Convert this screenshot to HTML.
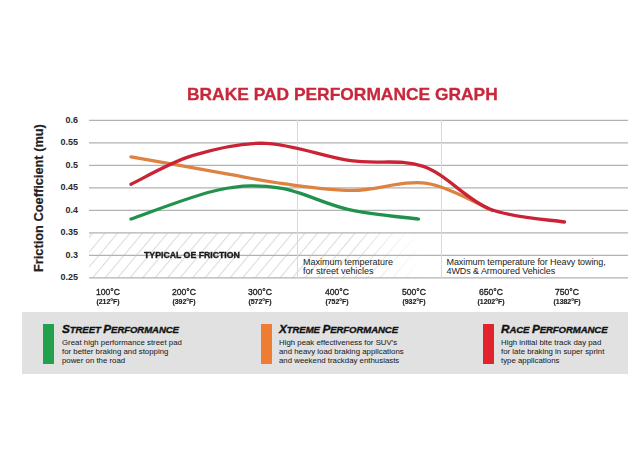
<!DOCTYPE html><html><head><meta charset="utf-8"><style>
html,body{margin:0;padding:0;background:#fff;}
body{width:639px;height:455px;position:relative;overflow:hidden;font-family:"Liberation Sans",sans-serif;color:#222;}
.a{position:absolute;white-space:nowrap;}
svg{position:absolute;left:0;top:0;}
.yl{font-size:9px;font-weight:bold;text-align:right;width:40px;left:38px;line-height:10px;color:#2a2a2a;}
.xc{font-size:9.6px;text-align:center;width:60px;line-height:10px;-webkit-text-stroke:0.35px #222;transform:scaleX(0.9);}
.xf{font-size:6.3px;font-weight:bold;text-align:center;width:60px;line-height:7px;transform:scaleX(1.1);-webkit-text-stroke:0.15px #222;}
.title{left:186.5px;top:85px;font-size:16.6px;transform:scaleX(1.048);transform-origin:0 0;-webkit-text-stroke:0.3px #c8283c;font-weight:bold;color:#c8283c;}
.note{font-size:9px;line-height:8.5px;color:#222;}
.lg{position:absolute;top:312px;left:22px;width:606px;height:62px;background:#e1e1e1;}
.bar{position:absolute;top:323.8px;height:40.6px;width:11px;}
.lt{font-size:11.8px;font-weight:bold;font-style:italic;color:#111;letter-spacing:-0.1px;-webkit-text-stroke:0.35px #111;}
.lt small{font-size:9.6px;}
.ld{font-size:7.8px;line-height:9.25px;color:#1c1c1c;-webkit-text-stroke:0.05px #1c1c1c;letter-spacing:0.02px;}
</style></head><body>
<div class="lg"></div>
<svg width="639" height="455" viewBox="0 0 639 455"><defs>
<pattern id="h" patternUnits="userSpaceOnUse" width="12.5" height="45" patternTransform="skewX(-40)">
<rect x="0" y="0" width="1.3" height="45" fill="#dadada"/>
</pattern>
<linearGradient id="fade" x1="0" x2="1" y1="0" y2="0">
<stop offset="0" stop-color="#fff" stop-opacity="1"/>
<stop offset="0.75" stop-color="#fff" stop-opacity="1"/>
<stop offset="0.95" stop-color="#fff" stop-opacity="0"/>
</linearGradient>
<mask id="m"><rect x="89" y="232" width="353" height="46" fill="url(#fade)"/></mask>
</defs>
<rect x="89" y="232.9" width="353" height="45.1" fill="url(#h)" mask="url(#m)"/>
<line x1="89" y1="120.3" x2="628" y2="120.3" stroke="#b2b2b2" stroke-width="1.2"/>
<line x1="89" y1="142.8" x2="628" y2="142.8" stroke="#b2b2b2" stroke-width="1.2"/>
<line x1="89" y1="165.3" x2="628" y2="165.3" stroke="#b2b2b2" stroke-width="1.2"/>
<line x1="89" y1="187.8" x2="628" y2="187.8" stroke="#b2b2b2" stroke-width="1.2"/>
<line x1="89" y1="210.3" x2="628" y2="210.3" stroke="#b2b2b2" stroke-width="1.2"/>
<line x1="89" y1="232.9" x2="628" y2="232.9" stroke="#b2b2b2" stroke-width="1.2"/>
<line x1="89" y1="255.4" x2="628" y2="255.4" stroke="#b2b2b2" stroke-width="1.2"/>
<line x1="89" y1="277.9" x2="628" y2="277.9" stroke="#b2b2b2" stroke-width="1.2"/>
<line x1="297.5" y1="120" x2="297.5" y2="278" stroke="#d8d8d8" stroke-width="1"/>
<line x1="441.5" y1="120" x2="441.5" y2="278" stroke="#d8d8d8" stroke-width="1"/>
<path d="M131.00,156.90 C147.20,159.77 202.85,169.63 228.20,174.10 C253.55,178.57 262.35,180.98 283.10,183.70 C303.85,186.42 328.75,190.47 352.70,190.40 C376.65,190.33 403.58,179.95 426.80,183.30 C450.02,186.65 481.13,205.97 492.00,210.50" fill="none" stroke="#dd8240" stroke-width="3.3" stroke-linecap="round"/>
<path d="M131.00,219.00 C145.53,214.17 193.33,195.13 218.20,190.00 C243.07,184.87 258.58,184.98 280.20,188.20 C301.82,191.42 324.85,204.15 347.90,209.30 C370.95,214.45 406.73,217.47 418.50,219.10" fill="none" stroke="#21924e" stroke-width="3.3" stroke-linecap="round"/>
<path d="M131.00,184.30 C141.22,179.53 169.87,162.53 192.30,155.70 C214.73,148.87 239.22,142.47 265.60,143.30 C291.98,144.13 324.30,156.85 350.60,160.70 C376.90,164.55 400.20,158.35 423.40,166.40 C446.60,174.45 466.28,199.73 489.80,209.00 C513.32,218.27 552.05,219.83 564.50,222.00" fill="none" stroke="#c92335" stroke-width="3.3" stroke-linecap="round"/></svg>
<div class="a title">BRAKE PAD PERFORMANCE GRAPH</div>
<div class="a yl" style="top:114.8px">0.6</div>
<div class="a yl" style="top:137.3px">0.55</div>
<div class="a yl" style="top:159.8px">0.5</div>
<div class="a yl" style="top:182.3px">0.45</div>
<div class="a yl" style="top:204.8px">0.4</div>
<div class="a yl" style="top:227.4px">0.35</div>
<div class="a yl" style="top:249.9px">0.3</div>
<div class="a yl" style="top:272.4px">0.25</div>
<div class="a xc" style="left:78px;top:287px">100°C</div>
<div class="a xf" style="left:78px;top:297.5px">(212°F)</div>
<div class="a xc" style="left:154px;top:287px">200°C</div>
<div class="a xf" style="left:154px;top:297.5px">(392°F)</div>
<div class="a xc" style="left:230px;top:287px">300°C</div>
<div class="a xf" style="left:230px;top:297.5px">(572°F)</div>
<div class="a xc" style="left:307px;top:287px">400°C</div>
<div class="a xf" style="left:307px;top:297.5px">(752°F)</div>
<div class="a xc" style="left:384px;top:287px">500°C</div>
<div class="a xf" style="left:384px;top:297.5px">(932°F)</div>
<div class="a xc" style="left:461px;top:287px">650°C</div>
<div class="a xf" style="left:461px;top:297.5px">(1202°F)</div>
<div class="a xc" style="left:537px;top:287px">750°C</div>
<div class="a xf" style="left:537px;top:297.5px">(1382°F)</div>
<div class="a" style="left:31px;top:272px;transform:rotate(-90deg);transform-origin:0 0;font-size:12.8px;font-weight:bold;-webkit-text-stroke:0.2px #222;">Friction Coefficient (mu)</div>
<div class="a" style="left:143.5px;top:249.3px;font-size:9.6px;font-weight:bold;transform:scaleX(0.91);transform-origin:0 0;-webkit-text-stroke:0.4px #1a1a1a;color:#1a1a1a;">TYPICAL OE FRICTION</div>
<div class="a note" style="left:303px;top:258.4px">Maximum temperature<br>for street vehicles</div>
<div class="a note" style="left:446.5px;top:258.4px;letter-spacing:-0.08px">Maximum temperature for Heavy towing,<br>4WDs &amp; Armoured Vehicles</div>
<div class="bar" style="left:43px;background:#22a04b"></div>
<div class="a lt" style="left:62px;top:321.6px">S<small>TREET </small>P<small>ERFORMANCE</small></div>
<div class="a ld" style="left:62px;top:337.5px">Great high performance street pad<br>for better braking and stopping<br>power on the road</div>
<div class="bar" style="left:261px;background:#ee7d33"></div>
<div class="a lt" style="left:279px;top:321.6px">X<small>TREME </small>P<small>ERFORMANCE</small></div>
<div class="a ld" style="left:279px;top:337.5px">High peak effectiveness for SUV's<br>and heavy load braking applications<br>and weekend trackday enthusiasts</div>
<div class="bar" style="left:483px;background:#e0232d"></div>
<div class="a lt" style="left:501px;top:321.6px">R<small>ACE </small>P<small>ERFORMANCE</small></div>
<div class="a ld" style="left:501px;top:337.5px">High initial bite track day pad<br>for late braking in super sprint<br>type applications</div>
</body></html>
